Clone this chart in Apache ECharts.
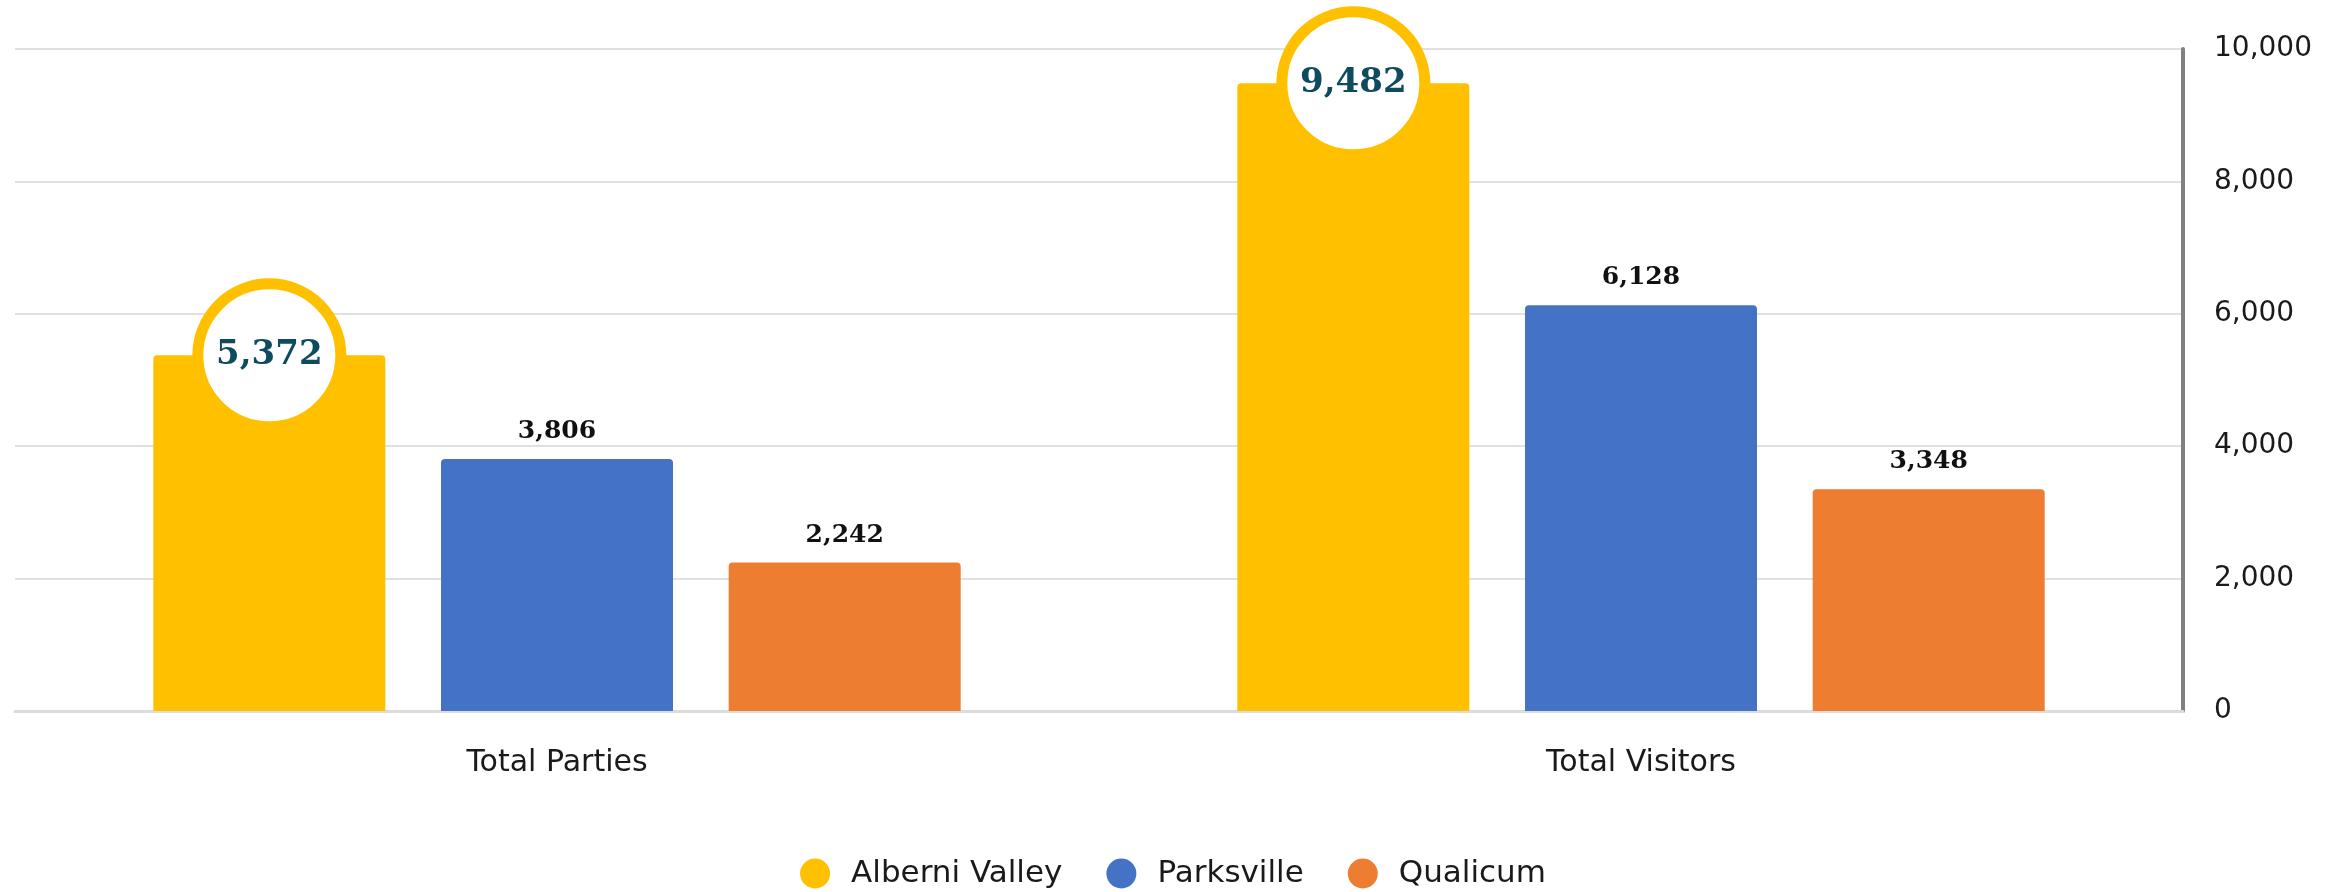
<!DOCTYPE html>
<html>
<head>
<meta charset="utf-8">
<script src="https://cdn.jsdelivr.net/npm/echarts@6/dist/echarts.min.js"></script>
<style>
  html, body { margin: 0; padding: 0; background: #fff; }
  #main { width: 2346px; height: 892px; }
</style>
</head>
<body>
<div id="main"></div>
<script>
// 数据
var categories = ['Total Parties', 'Total Visitors'];
var seriesNames = ['Alberni Valley', 'Parksville', 'Qualicum'];
var alberni = [5372, 9482];
var parksville = [3806, 6128];
var qualicum = [2242, 3348];
var yTicks = [0, 2000, 4000, 6000, 8000, 10000];

var colors = ['#FFC000', '#4472C4', '#ED7D31'];

function fmt(v) {
    return Number(v).toLocaleString('en-US');
}

var myChart = echarts.init(document.getElementById('main'));

// 柱顶数值
var barLabel = {
    show: true,
    position: 'top',
    distance: 15,
    fontFamily: 'DejaVu Serif',
    fontWeight: 'bold',
    fontSize: 25,
    color: '#111',
    formatter: function (p) { return fmt(p.value); }
};

var option = {
    animation: false,
    color: colors,
    grid: { left: 15, right: 163, top: 49, bottom: 181, containLabel: false },
    legend: {
        top: 853,
        left: 'center',
        icon: 'circle',
        itemWidth: 30,
        itemHeight: 30,
        itemGap: 44,
        data: seriesNames,
        textStyle: {
            fontFamily: 'DejaVu Sans',
            fontSize: 31,
            color: '#1a1a1a',
            padding: [0, 0, 0, 16]
        }
    },
    xAxis: {
        type: 'category',
        data: categories,
        axisTick: { show: false },
        axisLine: { lineStyle: { color: '#dcdcdc', width: 3 } },
        axisLabel: {
            margin: 37,
            fontFamily: 'DejaVu Sans',
            fontSize: 30,
            color: '#1a1a1a'
        }
    },
    yAxis: {
        type: 'value',
        position: 'right',
        min: yTicks[0],
        max: yTicks[yTicks.length - 1],
        interval: 2000,
        axisLine: { show: true, lineStyle: { color: '#808080', width: 4 } },
        axisTick: { show: false },
        splitLine: { lineStyle: { color: '#e0e0e0', width: 2 } },
        axisLabel: {
            margin: 31,
            fontFamily: 'DejaVu Sans',
            fontSize: 28,
            color: '#1a1a1a',
            formatter: function (v) { return fmt(v); }
        }
    },
    series: [
        {
            name: seriesNames[0],
            type: 'bar',
            data: alberni,
            barWidth: 232,
            barGap: '24%',
            itemStyle: { borderRadius: [4, 4, 0, 0] },
            label: { show: false },
            // 圆形数值标注
            markPoint: {
                symbol: 'circle',
                symbolSize: 143,
                z: 10,
                itemStyle: { color: '#ffffff', borderColor: '#FFC000', borderWidth: 11 },
                label: {
                    show: true,
                    position: 'inside',
                    fontFamily: 'DejaVu Serif',
                    fontWeight: 'bold',
                    fontSize: 34,
                    color: '#0e4b5e',
                    formatter: function (p) { return fmt(p.value); }
                },
                data: alberni.map(function (v, i) {
                    return { coord: [categories[i], v], value: v };
                })
            }
        },
        {
            name: seriesNames[1],
            type: 'bar',
            data: parksville,
            barWidth: 232,
            barGap: '24%',
            itemStyle: { borderRadius: [4, 4, 0, 0] },
            label: barLabel
        },
        {
            name: seriesNames[2],
            type: 'bar',
            data: qualicum,
            barWidth: 232,
            barGap: '24%',
            itemStyle: { borderRadius: [4, 4, 0, 0] },
            label: barLabel
        }
    ]
};

myChart.setOption(option);
</script>
</body>
</html>
